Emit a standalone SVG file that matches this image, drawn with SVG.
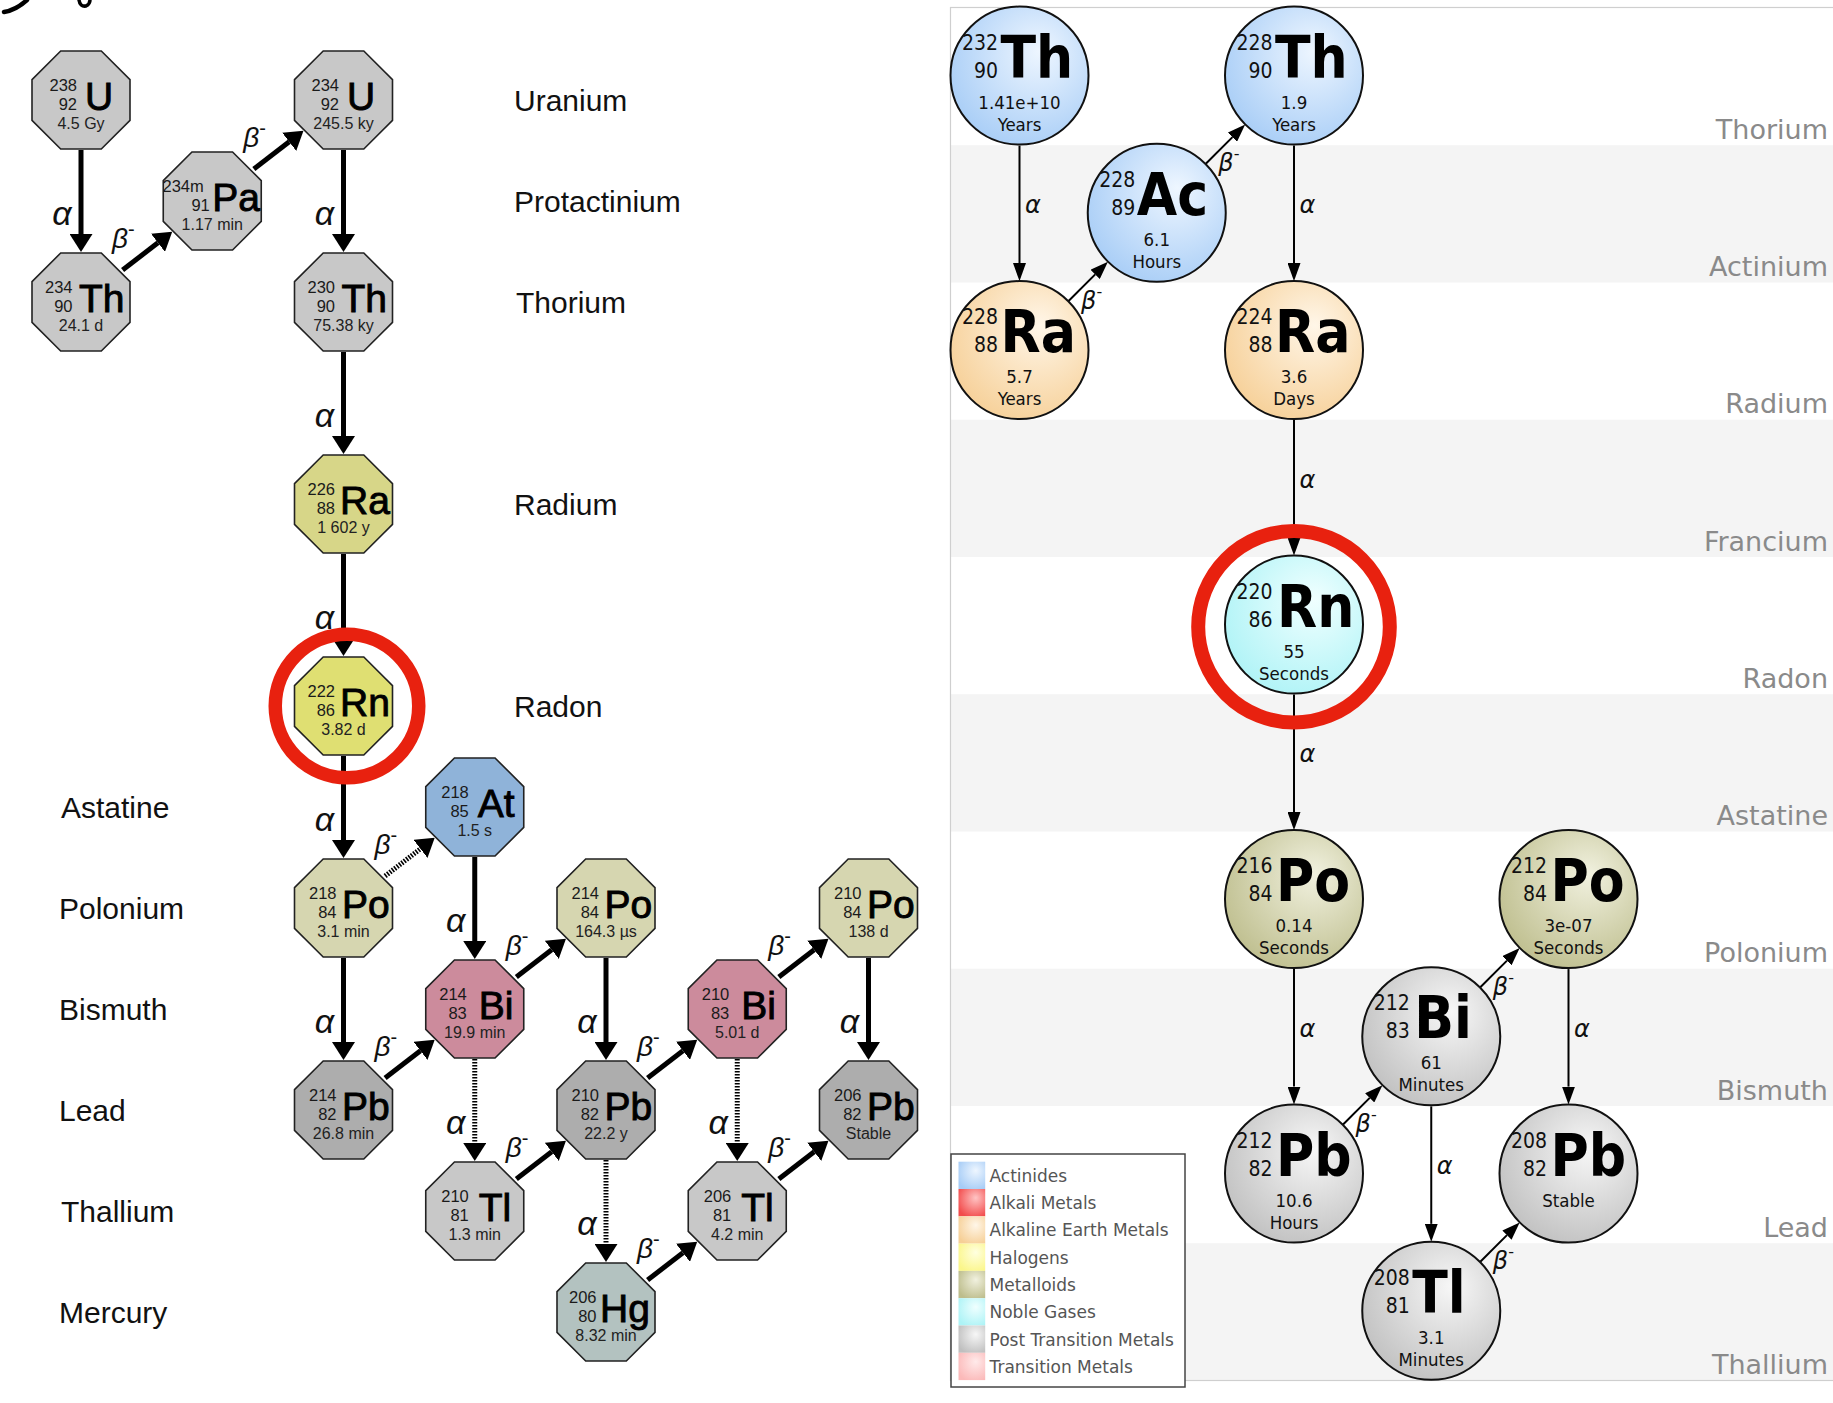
<svg xmlns="http://www.w3.org/2000/svg" xmlns:xlink="http://www.w3.org/1999/xlink" width="1833" height="1403" viewBox="0 0 1833 1403">
<style>
.lbl{font-family:'Liberation Sans',Arial,sans-serif;font-size:30px;fill:#111}
.oct{stroke:#222;stroke-width:1.6}
.gry{fill:#c8c8c8}.ra{fill:#d7d688}.rnf{fill:#dfdf72}.at{fill:#8fb3d9}.po{fill:#d6d6b0}.bi{fill:#cc8b9c}.pb{fill:#adadad}.tl{fill:#c8c8c8}.hg{fill:#b3c2c0}
.nt{font-family:'Liberation Sans',Arial,sans-serif}
.num{font-size:16.5px;fill:#1a1a1a;text-anchor:end}
.sym{font-size:39px;fill:#000;stroke:#000;stroke-width:0.9;text-anchor:start}
.hl{font-size:16px;fill:#222;text-anchor:middle;stroke:none}
.ga{font-family:'Liberation Sans',Arial,sans-serif;font-style:italic;font-size:34px;fill:#111;text-anchor:middle}
.gb{font-family:'Liberation Sans',Arial,sans-serif;font-style:italic;font-size:28px;fill:#111}
.sup{font-size:20px;font-style:normal}
.thk{stroke:#000;stroke-width:5;fill:none;marker-end:url(#ahL)}
.dot{stroke-dasharray:1.6 1.4}
.ring{fill:none;stroke:#e8210f}
.band{fill:#f4f4f4}
.rlab{font-family:'DejaVu Sans',sans-serif;font-size:27px;fill:#8a8a8a;text-anchor:end}
.cir{stroke:#111;stroke-width:2}
.ct{font-family:'DejaVu Sans Condensed','DejaVu Sans',sans-serif;font-stretch:condensed}
.rn{font-size:21px;fill:#111;text-anchor:end}
.rs{font-weight:bold;font-size:58px;fill:#000;text-anchor:start}
.rh{font-weight:normal;font-size:18.5px;fill:#111;text-anchor:middle}
.thn{stroke:#000;stroke-width:2;fill:none;marker-end:url(#ahR)}
.ra2{font-family:'DejaVu Sans',sans-serif;font-style:italic;font-size:24px;fill:#111}
.rsup{font-size:16px;font-style:normal}
.leg{font-family:'DejaVu Sans',sans-serif;font-size:17px;fill:#555}
</style>
<defs>
<polygon id="oct" points="-20.3,-49 20.3,-49 49,-20.3 49,20.3 20.3,49 -20.3,49 -49,20.3 -49,-20.3"/>
<marker id="ahL" markerUnits="userSpaceOnUse" markerWidth="18" markerHeight="23" refX="0" refY="11.5" orient="auto"><path d="M0,0 L18,11.5 L0,23 Z" fill="#000"/></marker>
<marker id="ahR" markerUnits="userSpaceOnUse" markerWidth="18" markerHeight="13" refX="0" refY="6.5" orient="auto"><path d="M0,0 L18,6.5 L0,13 Z" fill="#000"/></marker>
<radialGradient id="gBlue" cx="0.6" cy="0.38" r="0.7" fx="0.65" fy="0.32"><stop offset="0" stop-color="#eef6ff"/><stop offset="1" stop-color="#a6ccf6"/></radialGradient>
<radialGradient id="gOrange" cx="0.6" cy="0.38" r="0.7" fx="0.65" fy="0.32"><stop offset="0" stop-color="#fff6e8"/><stop offset="1" stop-color="#f6cf96"/></radialGradient>
<radialGradient id="gCyan" cx="0.6" cy="0.38" r="0.7" fx="0.65" fy="0.32"><stop offset="0" stop-color="#f0ffff"/><stop offset="1" stop-color="#adf3f6"/></radialGradient>
<radialGradient id="gOlive" cx="0.6" cy="0.38" r="0.7" fx="0.65" fy="0.32"><stop offset="0" stop-color="#f1f1df"/><stop offset="1" stop-color="#bdbd8c"/></radialGradient>
<radialGradient id="gGray" cx="0.6" cy="0.38" r="0.7" fx="0.65" fy="0.32"><stop offset="0" stop-color="#f7f7f7"/><stop offset="1" stop-color="#bfbfbf"/></radialGradient>
<radialGradient id="gRed" cx="0.6" cy="0.38" r="0.7" fx="0.65" fy="0.32"><stop offset="0" stop-color="#ffc4c4"/><stop offset="1" stop-color="#f24b4b"/></radialGradient>
<radialGradient id="gYellow" cx="0.6" cy="0.38" r="0.7" fx="0.65" fy="0.32"><stop offset="0" stop-color="#ffffe0"/><stop offset="1" stop-color="#fbf68a"/></radialGradient>
<radialGradient id="gPink" cx="0.6" cy="0.38" r="0.7" fx="0.65" fy="0.32"><stop offset="0" stop-color="#ffeaea"/><stop offset="1" stop-color="#fbb9b9"/></radialGradient>
</defs>
<rect width="1833" height="1403" fill="#fff"/>
<g id="handwriting-fragment" fill="none" stroke="#000" stroke-linecap="round">
<path d="M4,12 Q16,10 27,0" stroke-width="4.5"/>
<path d="M79,0 Q80,7 86,6 Q90,4 90,0" stroke-width="3.5"/>
</g>

<!-- LEFT PANEL element labels -->
<g id="left-labels">
<text class="lbl" x="514" y="110.5">Uranium</text>
<text class="lbl" x="514" y="211.5">Protactinium</text>
<text class="lbl" x="516" y="312.5">Thorium</text>
<text class="lbl" x="514" y="514.5">Radium</text>
<text class="lbl" x="514" y="716.5">Radon</text>
<text class="lbl" x="61" y="817.5">Astatine</text>
<text class="lbl" x="59" y="918.5">Polonium</text>
<text class="lbl" x="59" y="1019.5">Bismuth</text>
<text class="lbl" x="59" y="1120.5">Lead</text>
<text class="lbl" x="61" y="1221.5">Thallium</text>
<text class="lbl" x="59" y="1322.5">Mercury</text>
</g>

<!-- LEFT PANEL connectors -->
<g id="left-connectors">
<line class="thk" x1="81" y1="150" x2="81" y2="234"/>
<line class="thk" x1="343.5" y1="150" x2="343.5" y2="234"/>
<line class="thk" x1="343.5" y1="352" x2="343.5" y2="436"/>
<line class="thk" x1="343.5" y1="554" x2="343.5" y2="638"/>
<line class="thk" x1="343.5" y1="756" x2="343.5" y2="840"/>
<line class="thk" x1="343.5" y1="958" x2="343.5" y2="1042"/>
<line class="thk" x1="474.75" y1="857" x2="474.75" y2="941"/>
<line class="thk" x1="606" y1="958" x2="606" y2="1042"/>
<line class="thk" x1="868.5" y1="958" x2="868.5" y2="1042"/>
<line class="thk dot" x1="474.75" y1="1059" x2="474.75" y2="1143"/>
<line class="thk dot" x1="737.25" y1="1059" x2="737.25" y2="1143"/>
<line class="thk dot" x1="606" y1="1160" x2="606" y2="1244"/>
<line class="thk" x1="122.6" y1="270" x2="157.95" y2="242.8"/>
<line class="thk" x1="253.85" y1="169" x2="289.2" y2="141.8"/>
<line class="thk dot" x1="385.1" y1="876" x2="420.45" y2="848.8"/>
<line class="thk" x1="385.1" y1="1078" x2="420.45" y2="1050.8"/>
<line class="thk" x1="516.35" y1="977" x2="551.7" y2="949.8"/>
<line class="thk" x1="647.6" y1="1078" x2="682.95" y2="1050.8"/>
<line class="thk" x1="778.85" y1="977" x2="814.2" y2="949.8"/>
<line class="thk" x1="516.35" y1="1179" x2="551.7" y2="1151.8"/>
<line class="thk" x1="778.85" y1="1179" x2="814.2" y2="1151.8"/>
<line class="thk" x1="647.6" y1="1280" x2="682.95" y2="1252.8"/>
<text class="ga" x="62" y="225">α</text>
<text class="ga" x="324.5" y="225">α</text>
<text class="ga" x="324.5" y="427">α</text>
<text class="ga" x="324.5" y="629">α</text>
<text class="ga" x="324.5" y="831">α</text>
<text class="ga" x="324.5" y="1033">α</text>
<text class="ga" x="455.75" y="932">α</text>
<text class="ga" x="587" y="1033">α</text>
<text class="ga" x="849.5" y="1033">α</text>
<text class="ga" x="455.75" y="1134">α</text>
<text class="ga" x="718.25" y="1134">α</text>
<text class="ga" x="587" y="1235">α</text>
<text class="gb" x="112" y="247.5">β<tspan class="sup" dy="-12">-</tspan></text>
<text class="gb" x="243.25" y="146.5">β<tspan class="sup" dy="-12">-</tspan></text>
<text class="gb" x="374.5" y="853.5">β<tspan class="sup" dy="-12">-</tspan></text>
<text class="gb" x="374.5" y="1055.5">β<tspan class="sup" dy="-12">-</tspan></text>
<text class="gb" x="505.75" y="954.5">β<tspan class="sup" dy="-12">-</tspan></text>
<text class="gb" x="637" y="1055.5">β<tspan class="sup" dy="-12">-</tspan></text>
<text class="gb" x="768.25" y="954.5">β<tspan class="sup" dy="-12">-</tspan></text>
<text class="gb" x="505.75" y="1156.5">β<tspan class="sup" dy="-12">-</tspan></text>
<text class="gb" x="768.25" y="1156.5">β<tspan class="sup" dy="-12">-</tspan></text>
<text class="gb" x="637" y="1257.5">β<tspan class="sup" dy="-12">-</tspan></text>
</g>

<!-- LEFT PANEL nodes -->
<g id="U238" transform="translate(81,100)"><use xlink:href="#oct" class="oct gry"/><text class="nt"><tspan class="num" x="-4" y="-9.5">238</tspan><tspan class="num" x="-4" y="10">92</tspan><tspan class="sym" x="4" y="9.5">U</tspan><tspan class="hl" x="0" y="28.5">4.5 Gy</tspan></text></g>
<g id="Pa234m" transform="translate(212.25,201)"><use xlink:href="#oct" class="oct gry"/><text class="nt"><tspan class="num" x="-8.5" y="-9.5">234m</tspan><tspan class="num" x="-2.5" y="10">91</tspan><tspan class="sym" x="0" y="9.5">Pa</tspan><tspan class="hl" x="0" y="28.5">1.17 min</tspan></text></g>
<g id="U234" transform="translate(343.5,100)"><use xlink:href="#oct" class="oct gry"/><text class="nt"><tspan class="num" x="-4.5" y="-9.5">234</tspan><tspan class="num" x="-4.5" y="10">92</tspan><tspan class="sym" x="3.5" y="9.5">U</tspan><tspan class="hl" x="0" y="28.5">245.5 ky</tspan></text></g>
<g id="Th234" transform="translate(81,302)"><use xlink:href="#oct" class="oct gry"/><text class="nt"><tspan class="num" x="-8.5" y="-9.5">234</tspan><tspan class="num" x="-8.5" y="10">90</tspan><tspan class="sym" x="-2" y="9.5">Th</tspan><tspan class="hl" x="0" y="28.5">24.1 d</tspan></text></g>
<g id="Th230" transform="translate(343.5,302)"><use xlink:href="#oct" class="oct gry"/><text class="nt"><tspan class="num" x="-8.5" y="-9.5">230</tspan><tspan class="num" x="-8.5" y="10">90</tspan><tspan class="sym" x="-2" y="9.5">Th</tspan><tspan class="hl" x="0" y="28.5">75.38 ky</tspan></text></g>
<g id="Ra226" transform="translate(343.5,504)"><use xlink:href="#oct" class="oct ra"/><text class="nt"><tspan class="num" x="-8.5" y="-9.5">226</tspan><tspan class="num" x="-8.5" y="10">88</tspan><tspan class="sym" x="-3.5" y="9.5">Ra</tspan><tspan class="hl" x="0" y="28.5">1 602 y</tspan></text></g>
<g id="Rn222" transform="translate(343.5,706)"><use xlink:href="#oct" class="oct rnf"/><text class="nt"><tspan class="num" x="-8.5" y="-9.5">222</tspan><tspan class="num" x="-8.5" y="10">86</tspan><tspan class="sym" x="-3.5" y="9.5">Rn</tspan><tspan class="hl" x="0" y="28.5">3.82 d</tspan></text></g>
<g id="At218" transform="translate(474.75,807)"><use xlink:href="#oct" class="oct at"/><text class="nt"><tspan class="num" x="-6" y="-9.5">218</tspan><tspan class="num" x="-6" y="10">85</tspan><tspan class="sym" x="3" y="9.5">At</tspan><tspan class="hl" x="0" y="28.5">1.5 s</tspan></text></g>
<g id="Po218" transform="translate(343.5,908)"><use xlink:href="#oct" class="oct po"/><text class="nt"><tspan class="num" x="-7" y="-9.5">218</tspan><tspan class="num" x="-7" y="10">84</tspan><tspan class="sym" x="-1.5" y="9.5">Po</tspan><tspan class="hl" x="0" y="28.5">3.1 min</tspan></text></g>
<g id="Po214" transform="translate(606,908)"><use xlink:href="#oct" class="oct po"/><text class="nt"><tspan class="num" x="-7" y="-9.5">214</tspan><tspan class="num" x="-7" y="10">84</tspan><tspan class="sym" x="-1.5" y="9.5">Po</tspan><tspan class="hl" x="0" y="28.5">164.3 µs</tspan></text></g>
<g id="Po210" transform="translate(868.5,908)"><use xlink:href="#oct" class="oct po"/><text class="nt"><tspan class="num" x="-7" y="-9.5">210</tspan><tspan class="num" x="-7" y="10">84</tspan><tspan class="sym" x="-1.5" y="9.5">Po</tspan><tspan class="hl" x="0" y="28.5">138 d</tspan></text></g>
<g id="Bi214" transform="translate(474.75,1009)"><use xlink:href="#oct" class="oct bi"/><text class="nt"><tspan class="num" x="-8" y="-9.5">214</tspan><tspan class="num" x="-8" y="10">83</tspan><tspan class="sym" x="4" y="9.5">Bi</tspan><tspan class="hl" x="0" y="28.5">19.9 min</tspan></text></g>
<g id="Bi210" transform="translate(737.25,1009)"><use xlink:href="#oct" class="oct bi"/><text class="nt"><tspan class="num" x="-8" y="-9.5">210</tspan><tspan class="num" x="-8" y="10">83</tspan><tspan class="sym" x="4" y="9.5">Bi</tspan><tspan class="hl" x="0" y="28.5">5.01 d</tspan></text></g>
<g id="Pb214" transform="translate(343.5,1110)"><use xlink:href="#oct" class="oct pb"/><text class="nt"><tspan class="num" x="-7" y="-9.5">214</tspan><tspan class="num" x="-7" y="10">82</tspan><tspan class="sym" x="-1.5" y="9.5">Pb</tspan><tspan class="hl" x="0" y="28.5">26.8 min</tspan></text></g>
<g id="Pb210" transform="translate(606,1110)"><use xlink:href="#oct" class="oct pb"/><text class="nt"><tspan class="num" x="-7" y="-9.5">210</tspan><tspan class="num" x="-7" y="10">82</tspan><tspan class="sym" x="-1.5" y="9.5">Pb</tspan><tspan class="hl" x="0" y="28.5">22.2 y</tspan></text></g>
<g id="Pb206" transform="translate(868.5,1110)"><use xlink:href="#oct" class="oct pb"/><text class="nt"><tspan class="num" x="-7" y="-9.5">206</tspan><tspan class="num" x="-7" y="10">82</tspan><tspan class="sym" x="-1.5" y="9.5">Pb</tspan><tspan class="hl" x="0" y="28.5">Stable</tspan></text></g>
<g id="Tl210" transform="translate(474.75,1211)"><use xlink:href="#oct" class="oct tl"/><text class="nt"><tspan class="num" x="-6" y="-9.5">210</tspan><tspan class="num" x="-6" y="10">81</tspan><tspan class="sym" x="4" y="9.5">Tl</tspan><tspan class="hl" x="0" y="28.5">1.3 min</tspan></text></g>
<g id="Tl206" transform="translate(737.25,1211)"><use xlink:href="#oct" class="oct tl"/><text class="nt"><tspan class="num" x="-6" y="-9.5">206</tspan><tspan class="num" x="-6" y="10">81</tspan><tspan class="sym" x="4" y="9.5">Tl</tspan><tspan class="hl" x="0" y="28.5">4.2 min</tspan></text></g>
<g id="Hg206" transform="translate(606,1312)"><use xlink:href="#oct" class="oct hg"/><text class="nt"><tspan class="num" x="-9.5" y="-9.5">206</tspan><tspan class="num" x="-9.5" y="10">80</tspan><tspan class="sym" x="-6" y="9.5">Hg</tspan><tspan class="hl" x="0" y="28.5">8.32 min</tspan></text></g>
<circle id="left-highlight" class="ring" cx="347" cy="706" r="71.75" stroke-width="13.5"/>

<!-- RIGHT PANEL background bands -->
<g id="right-bands">
<rect class="band" x="950" y="145.25" width="883" height="137.25"/>
<rect class="band" x="950" y="419.75" width="883" height="137.25"/>
<rect class="band" x="950" y="694.25" width="883" height="137.25"/>
<rect class="band" x="950" y="968.75" width="883" height="137.25"/>
<rect class="band" x="950" y="1243.25" width="883" height="137.25"/>
<rect x="950.5" y="7.5" width="900" height="1373" fill="none" stroke="#cfcfcf" stroke-width="1.2"/>
<text class="rlab" x="1828" y="138.5">Thorium</text>
<text class="rlab" x="1828" y="276">Actinium</text>
<text class="rlab" x="1828" y="413">Radium</text>
<text class="rlab" x="1828" y="550.5">Francium</text>
<text class="rlab" x="1828" y="687.5">Radon</text>
<text class="rlab" x="1828" y="825">Astatine</text>
<text class="rlab" x="1828" y="962">Polonium</text>
<text class="rlab" x="1828" y="1099.5">Bismuth</text>
<text class="rlab" x="1828" y="1236.5">Lead</text>
<text class="rlab" x="1828" y="1374">Thallium</text>
</g>

<!-- RIGHT PANEL connectors -->
<g id="right-connectors">
<line class="thn" x1="1019.5" y1="145.6" x2="1019.5" y2="263.1"/>
<line class="thn" x1="1294" y1="145.6" x2="1294" y2="263.1"/>
<line class="thn" x1="1294" y1="420.1" x2="1294" y2="537.6"/>
<line class="thn" x1="1294" y1="694.6" x2="1294" y2="812.1"/>
<line class="thn" x1="1294" y1="969.1" x2="1294" y2="1086.6"/>
<line class="thn" x1="1568.5" y1="969.1" x2="1568.5" y2="1086.6"/>
<line class="thn" x1="1431.25" y1="1106.35" x2="1431.25" y2="1223.85"/>
<line class="thn" x1="1068.3" y1="301.3" x2="1095.2" y2="274.4"/>
<line class="thn" x1="1205.55" y1="164.05" x2="1232.45" y2="137.15"/>
<line class="thn" x1="1480.05" y1="987.55" x2="1506.95" y2="960.65"/>
<line class="thn" x1="1342.8" y1="1124.8" x2="1369.7" y2="1097.9"/>
<line class="thn" x1="1480.05" y1="1262.05" x2="1506.95" y2="1235.15"/>
<text class="ra2" x="1025" y="213">α</text>
<text class="ra2" x="1299.5" y="213">α</text>
<text class="ra2" x="1299.5" y="488">α</text>
<text class="ra2" x="1299.5" y="762">α</text>
<text class="ra2" x="1299.5" y="1037">α</text>
<text class="ra2" x="1574" y="1037">α</text>
<text class="ra2" x="1436.75" y="1174">α</text>
<text class="ra2" x="1081.1" y="308.5">β<tspan class="rsup" dy="-12">-</tspan></text>
<text class="ra2" x="1218.35" y="171.25">β<tspan class="rsup" dy="-12">-</tspan></text>
<text class="ra2" x="1492.85" y="994.75">β<tspan class="rsup" dy="-12">-</tspan></text>
<text class="ra2" x="1355.6" y="1132">β<tspan class="rsup" dy="-12">-</tspan></text>
<text class="ra2" x="1492.85" y="1269.25">β<tspan class="rsup" dy="-12">-</tspan></text>
</g>

<!-- RIGHT PANEL nodes -->
<g id="Th232" transform="translate(1019.5,75.6)"><circle r="69" class="cir" fill="url(#gBlue)"/><text class="ct"><tspan class="rn" x="-21.5" y="-26">232</tspan><tspan class="rn" x="-21.5" y="2">90</tspan><tspan class="rs" x="-19" y="2">Th</tspan><tspan class="rh" x="0" y="33">1.41e+10</tspan><tspan class="rh" x="0" y="55">Years</tspan></text></g>
<g id="Th228" transform="translate(1294,75.6)"><circle r="69" class="cir" fill="url(#gBlue)"/><text class="ct"><tspan class="rn" x="-21.5" y="-26">228</tspan><tspan class="rn" x="-21.5" y="2">90</tspan><tspan class="rs" x="-19" y="2">Th</tspan><tspan class="rh" x="0" y="33">1.9</tspan><tspan class="rh" x="0" y="55">Years</tspan></text></g>
<g id="Ac228" transform="translate(1156.75,212.85)"><circle r="69" class="cir" fill="url(#gBlue)"/><text class="ct"><tspan class="rn" x="-21.5" y="-26">228</tspan><tspan class="rn" x="-21.5" y="2">89</tspan><tspan class="rs" x="-20" y="2">Ac</tspan><tspan class="rh" x="0" y="33">6.1</tspan><tspan class="rh" x="0" y="55">Hours</tspan></text></g>
<g id="Ra228" transform="translate(1019.5,350.1)"><circle r="69" class="cir" fill="url(#gOrange)"/><text class="ct"><tspan class="rn" x="-21.5" y="-26">228</tspan><tspan class="rn" x="-21.5" y="2">88</tspan><tspan class="rs" x="-19" y="2">Ra</tspan><tspan class="rh" x="0" y="33">5.7</tspan><tspan class="rh" x="0" y="55">Years</tspan></text></g>
<g id="Ra224" transform="translate(1294,350.1)"><circle r="69" class="cir" fill="url(#gOrange)"/><text class="ct"><tspan class="rn" x="-21.5" y="-26">224</tspan><tspan class="rn" x="-21.5" y="2">88</tspan><tspan class="rs" x="-19" y="2">Ra</tspan><tspan class="rh" x="0" y="33">3.6</tspan><tspan class="rh" x="0" y="55">Days</tspan></text></g>
<g id="Rn220" transform="translate(1294,624.6)"><circle r="69" class="cir" fill="url(#gCyan)"/><text class="ct"><tspan class="rn" x="-21.5" y="-26">220</tspan><tspan class="rn" x="-21.5" y="2">86</tspan><tspan class="rs" x="-17" y="2">Rn</tspan><tspan class="rh" x="0" y="33">55</tspan><tspan class="rh" x="0" y="55">Seconds</tspan></text></g>
<g id="Po216" transform="translate(1294,899.1)"><circle r="69" class="cir" fill="url(#gOlive)"/><text class="ct"><tspan class="rn" x="-21.5" y="-26">216</tspan><tspan class="rn" x="-21.5" y="2">84</tspan><tspan class="rs" x="-18" y="2">Po</tspan><tspan class="rh" x="0" y="33">0.14</tspan><tspan class="rh" x="0" y="55">Seconds</tspan></text></g>
<g id="Po212" transform="translate(1568.5,899.1)"><circle r="69" class="cir" fill="url(#gOlive)"/><text class="ct"><tspan class="rn" x="-21.5" y="-26">212</tspan><tspan class="rn" x="-21.5" y="2">84</tspan><tspan class="rs" x="-18" y="2">Po</tspan><tspan class="rh" x="0" y="33">3e-07</tspan><tspan class="rh" x="0" y="55">Seconds</tspan></text></g>
<g id="Bi212" transform="translate(1431.25,1036.35)"><circle r="69" class="cir" fill="url(#gGray)"/><text class="ct"><tspan class="rn" x="-21.5" y="-26">212</tspan><tspan class="rn" x="-21.5" y="2">83</tspan><tspan class="rs" x="-17" y="2">Bi</tspan><tspan class="rh" x="0" y="33">61</tspan><tspan class="rh" x="0" y="55">Minutes</tspan></text></g>
<g id="Pb212" transform="translate(1294,1173.6)"><circle r="69" class="cir" fill="url(#gGray)"/><text class="ct"><tspan class="rn" x="-21.5" y="-26">212</tspan><tspan class="rn" x="-21.5" y="2">82</tspan><tspan class="rs" x="-18" y="2">Pb</tspan><tspan class="rh" x="0" y="33">10.6</tspan><tspan class="rh" x="0" y="55">Hours</tspan></text></g>
<g id="Pb208" transform="translate(1568.5,1173.6)"><circle r="69" class="cir" fill="url(#gGray)"/><text class="ct"><tspan class="rn" x="-21.5" y="-26">208</tspan><tspan class="rn" x="-21.5" y="2">82</tspan><tspan class="rs" x="-18" y="2">Pb</tspan><tspan class="rh" x="0" y="33">Stable</tspan></text></g>
<g id="Tl208" transform="translate(1431.25,1310.85)"><circle r="69" class="cir" fill="url(#gGray)"/><text class="ct"><tspan class="rn" x="-21.5" y="-26">208</tspan><tspan class="rn" x="-21.5" y="2">81</tspan><tspan class="rs" x="-19" y="2">Tl</tspan><tspan class="rh" x="0" y="33">3.1</tspan><tspan class="rh" x="0" y="55">Minutes</tspan></text></g>
<circle id="right-highlight" class="ring" cx="1294" cy="626.7" r="95.8" stroke-width="14"/>

<!-- LEGEND -->
<g id="legend">
<rect x="951" y="1154" width="234" height="233" fill="#fff" stroke="#444" stroke-width="1.5"/>
<rect x="958.5" y="1161.7" width="26.7" height="27.3" fill="url(#gBlue)"/>
<rect x="958.5" y="1189" width="26.7" height="27.3" fill="url(#gRed)"/>
<rect x="958.5" y="1216.3" width="26.7" height="27.3" fill="url(#gOrange)"/>
<rect x="958.5" y="1243.6" width="26.7" height="27.3" fill="url(#gYellow)"/>
<rect x="958.5" y="1270.9" width="26.7" height="27.3" fill="url(#gOlive)"/>
<rect x="958.5" y="1298.2" width="26.7" height="27.3" fill="url(#gCyan)"/>
<rect x="958.5" y="1325.5" width="26.7" height="27.3" fill="url(#gGray)"/>
<rect x="958.5" y="1352.8" width="26.7" height="27.3" fill="url(#gPink)"/>
<text class="leg" x="989.5" y="1181.7">Actinides</text>
<text class="leg" x="989.5" y="1209">Alkali Metals</text>
<text class="leg" x="989.5" y="1236.3">Alkaline Earth Metals</text>
<text class="leg" x="989.5" y="1263.6">Halogens</text>
<text class="leg" x="989.5" y="1290.9">Metalloids</text>
<text class="leg" x="989.5" y="1318.2">Noble Gases</text>
<text class="leg" x="989.5" y="1345.5">Post Transition Metals</text>
<text class="leg" x="989.5" y="1372.8">Transition Metals</text>
</g>
</svg>
